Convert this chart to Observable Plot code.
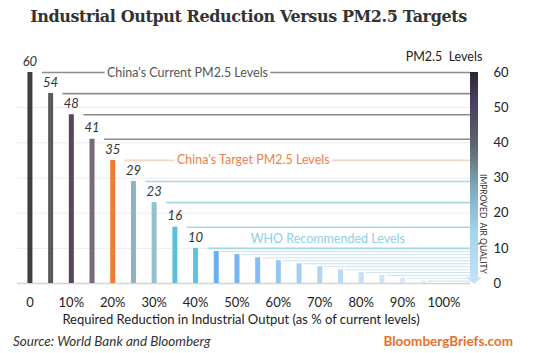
<!DOCTYPE html>
<html><head><meta charset="utf-8">
<script src="https://cdn.jsdelivr.net/npm/d3@7"></script>
<script src="https://cdn.jsdelivr.net/npm/@observablehq/plot@0.6"></script>
<style>
body{margin:0;background:#fff;}
#wrap{position:relative;width:535px;height:353px;overflow:hidden;font-family:Lato,sans-serif;background:#fff;}
#title{position:absolute;left:0;top:7px;width:497px;text-align:center;font:bold 16px "DejaVu Serif",serif;color:#333;white-space:nowrap;letter-spacing:-0.4px;}
#chart{position:absolute;left:0;top:38px;}
#xlabel{position:absolute;left:0;width:482px;top:311px;text-align:center;font-size:13px;color:#222;white-space:nowrap;}
#source{position:absolute;left:13px;top:333px;font-style:italic;font-size:13.5px;color:#333;white-space:nowrap;}
#brand{position:absolute;right:22px;top:333px;font-weight:bold;font-size:13.5px;color:#e8702a;white-space:nowrap;}
</style></head>
<body>
<div id="wrap">
<div id="title">Industrial Output Reduction Versus PM2.5 Targets</div>
<div id="chart"></div>
<div id="xlabel">Required Reduction in Industrial Output (as % of current levels)</div>
<div id="source">Source: World Bank and Bloomberg</div>
<div id="brand">BloombergBriefs.com</div>
</div>
<script>
const reductions = [0,5,10,15,20,25,30,35,40,45,50,55,60,65,70,75,80,85,90,95,100];
const pm25 = [60,54,48,41,35,29,23,16,10,9.1,8.2,7.3,6.5,5.6,4.8,3.9,3.1,2.3,1.5,0.7,0];
const labeledCount = 9;
const barColors = ["#3f3f3f","#5a5a5a","#54475e","#76687e","#f07b35","#8db4bf","#92c2cc","#5bc0da","#5cc3e3","#6ab0f0","#74b4f0","#85bcf2","#98c6f2","#a6ccf2","#b2d4f4","#bcdaf4","#c6def6","#cfe4f6","#d8e8f8","#e0ecf8","#e8f0f8"];
const lineColors = ["#8c8c8c","#8c8c8c","#8c8c8c","#8c8c8c","#f6d6c4","#a6d6e3","#a6d6e3","#a6d6e3","#9ed8ea","#cfe2f0","#cfe2f0","#cfe2f0","#cfe2f0","#cfe2f0","#cfe2f0","#cfe2f0","#cfe2f0","#cfe2f0","#cfe2f0","#cfe2f0","#cfe2f0"];
const xTicks = [0,10,20,30,40,50,60,70,80,90,100];
const yTicks = [0,10,20,30,40,50,60];
const gridLevels = [10,20,30,40,50];
const lineNotes = [
  {text:"China's Current PM2.5 Levels", level:60, x:18.6, color:"#555555"},
  {text:"China's Target PM2.5 Levels", level:35, x:35.5, color:"#f0804a"}
];
const aboveNotes = [
  {text:"WHO Recommended Levels", level:10, x:53.3, color:"#8dcfe6"}
];

const data = reductions.map((r,i)=>({r, v:pm25[i], i, bar:barColors[i], line:lineColors[i], labeled:i<labeledCount}));
const xMax = 106.4;

const plot = Plot.plot({
  width:535, height:272,
  marginLeft:17, marginRight:65, marginTop:34, marginBottom:27,
  style:{fontFamily:"Lato, sans-serif", fontSize:"13px", color:"#222", background:"transparent"},
  x:{domain:[-3,xMax], ticks:xTicks, tickFormat:d=>d===0?"0":d+"%", tickSize:0, tickPadding:14, label:null},
  y:{domain:[0,60], axis:"right", ticks:yTicks, tickSize:0, tickPadding:23, label:null},
  marks:[
    Plot.ruleY(gridLevels,{stroke:"#ececec", strokeWidth:1}),
    Plot.ruleY([0],{stroke:"#d4d4d4", strokeWidth:1.5}),
    Plot.ruleY(data.filter(d=>d.v>0),{y:"v", x1:d=>d.r+(d.labeled?3:1.2), x2:xMax, stroke:"line", strokeWidth:d=>d.i<9?1.6:1}),
    Plot.ruleX(data.filter(d=>d.v>0),{x:"r", y1:0, y2:"v", stroke:"bar", strokeWidth:5}),
    Plot.text(data.filter(d=>d.labeled),{x:"r", y:"v", text:d=>String(d.v), dy:-11, fontStyle:"italic", fontSize:13, fill:"#333"}),
    Plot.text(lineNotes,{x:"x", y:"level", text:"text", fill:"color", textAnchor:"start", fontSize:12.5, stroke:"white", strokeWidth:6}),
    Plot.text(aboveNotes,{x:"x", y:"level", text:"text", fill:"color", dy:-9, textAnchor:"start", fontSize:12.5})
  ]
});
document.getElementById("chart").appendChild(plot);

const ys = plot.scale("y");
const yf = d3.scaleLinear(ys.domain, ys.range);
const svg = d3.select(plot);
const xr = 535 - 65;
const defs = svg.append("defs");
const g = defs.append("linearGradient").attr("id","cbar").attr("gradientUnits","userSpaceOnUse")
  .attr("x1",0).attr("x2",0).attr("y1",yf(60)).attr("y2",yf(0));
[[0,"#2b2730"],[0.12,"#4a3a5c"],[0.35,"#5e6670"],[0.55,"#7eaab8"],[0.75,"#a6d2e8"],[1,"#c4e2f6"]]
  .forEach(([o,c])=>g.append("stop").attr("offset",o).attr("stop-color",c));
svg.append("rect").attr("x",xr).attr("width",8).attr("y",yf(60)).attr("height",yf(1.6)-yf(60)).attr("fill","url(#cbar)");
svg.append("path").attr("d",`M${xr-4},${yf(1.6)}L${xr+12},${yf(1.6)}L${xr+4},${yf(0)+1}Z`).attr("fill","url(#cbar)");
svg.append("text").attr("transform",`translate(${xr+13},${yf(16.8)}) rotate(90)`).attr("text-anchor","middle")
  .attr("dy","0.35em").attr("font-size","8.5px").attr("fill","#333").text("IMPROVED  AIR QUALITY");
svg.append("text").attr("x",xr-26).attr("y",yf(60)-15).attr("dy","0.35em").attr("font-size","12.5px").attr("fill","#222")
  .attr("xml:space","preserve").text("PM2.5  Levels");
</script>
</body></html>
